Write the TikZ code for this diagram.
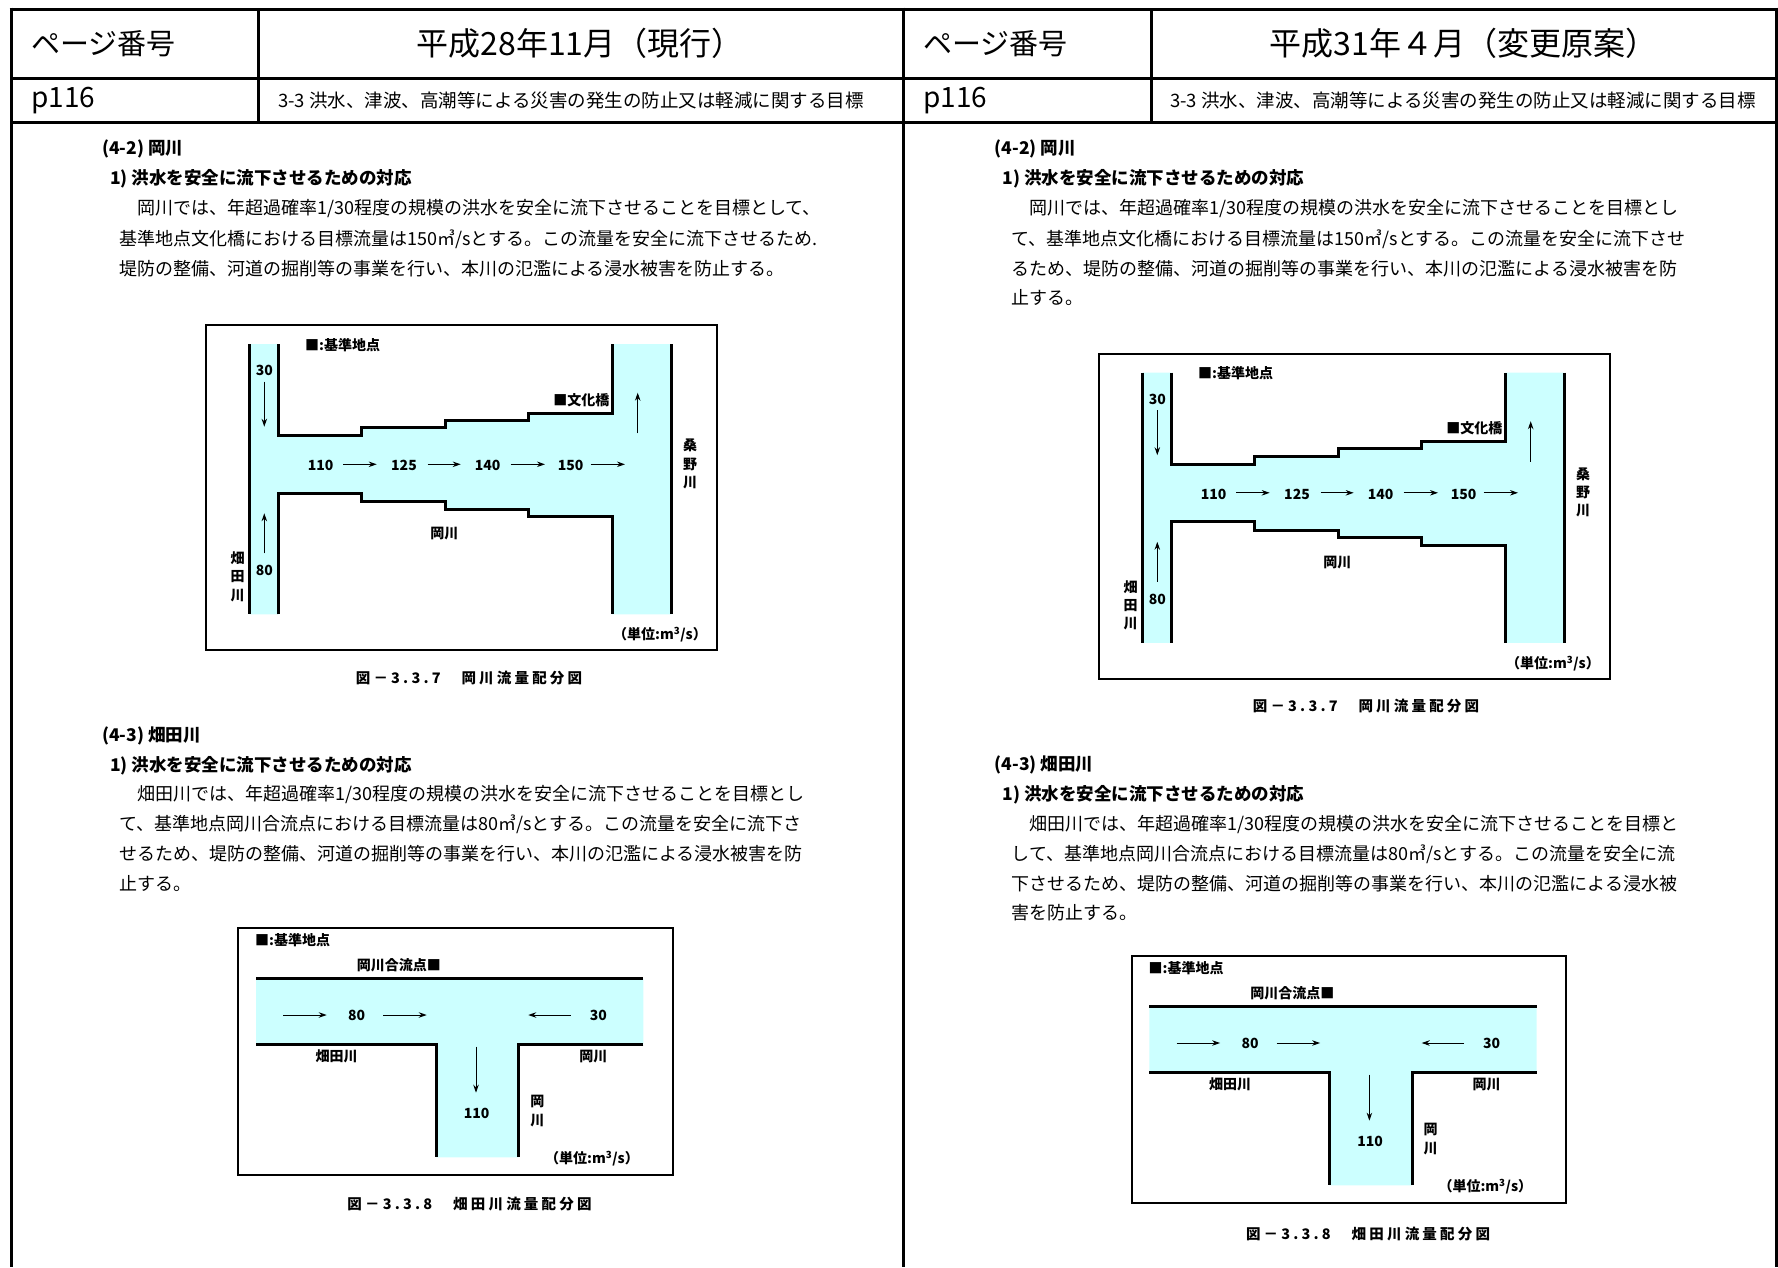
\documentclass[tikz,border=0pt]{standalone}
\usepackage{fontspec}
\setmainfont{Noto Sans CJK JP}
\usetikzlibrary{arrows.meta}
\definecolor{water}{HTML}{CCFFFF}
\newcommand{\fsz}[1]{\fontsize{#1}{#1}\selectfont}
\begin{document}
\begin{tikzpicture}[x=1pt,y=-1pt,
  frameline/.style={line width=3pt},
  txt/.style={inner sep=0pt,anchor=west},
  bigt/.style={txt,font=\fsz{29}},
  midt/.style={txt,font=\fsz{18.5}},
  head/.style={txt,font=\fsz{17.5}\bfseries},
  body/.style={txt,font=\fsz{18}},
  capt/.style={inner sep=0pt,font=\fsz{14.5}\bfseries\addfontfeature{LetterSpace=22}},
  figt/.style={inner sep=0pt,font=\fsz{14}\bfseries},
  vert/.style={figt,align=center,font=\fontsize{14}{18.3}\selectfont\bfseries},
  bank/.style={line width=3pt},
  figframe/.style={line width=2pt},
  flow/.style={line width=1pt,-{Stealth[length=8pt,width=5.5pt]}},
  figA/.pic={
    \fill[water] (249.3,344) -- (278.7,344) -- (278.7,435.7) -- (361.7,435.7) -- (361.7,427.7) -- (445,427.7) -- (445,420) -- (528.3,420) -- (528.3,413.3) -- (612,413.3) -- (612,344) -- (671.7,344) -- (671.7,614.3) -- (612,614.3) -- (612,516.7) -- (528.3,516.7) -- (528.3,509) -- (445,509) -- (445,501.7) -- (361.7,501.7) -- (361.7,493.3) -- (278.7,493.3) -- (278.7,614.3) -- (249.3,614.3) -- cycle;
    \draw[bank] (249.3,344) -- (249.3,614.3);
    \draw[bank] (278.7,344) -- (278.7,435.7) -- (361.7,435.7) -- (361.7,427.7) -- (445,427.7) -- (445,420) -- (528.3,420) -- (528.3,413.3) -- (612,413.3) -- (612,344);
    \draw[bank] (278.7,614.3) -- (278.7,493.3) -- (361.7,493.3) -- (361.7,501.7) -- (445,501.7) -- (445,509) -- (528.3,509) -- (528.3,516.7) -- (612,516.7) -- (612,614.3);
    \draw[bank] (671.7,344) -- (671.7,614.3);
    \draw[figframe] (206,325) rectangle (717,650);
    \node[figt,anchor=west] (key) at (305,345) {■:基準地点};
    \node[figt] (q30) at (264.3,370.7) {30};
    \draw[flow] (264.3,381.7) -- (264.3,426.7);
    \node[figt] (q80) at (264.3,570.7) {80};
    \draw[flow] (264.3,553.3) -- (264.3,513.3);
    \node[vert] (hata) at (237.7,576.7) {畑\\田\\川};
    \node[figt] (q110) at (320.7,465.7) {110};
    \draw[flow] (343.3,464.3) -- (376.7,464.3);
    \node[figt] (q125) at (404,465.7) {125};
    \draw[flow] (427.7,464.3) -- (460.7,464.3);
    \node[figt] (q140) at (487.7,465.7) {140};
    \draw[flow] (510.7,464.3) -- (545,464.3);
    \node[figt] (q150) at (570.7,465.7) {150};
    \draw[flow] (590.7,464.3) -- (625,464.3);
    \draw[flow] (637.7,433.3) -- (637.7,392.7);
    \node[figt,anchor=east] (bunka) at (609.5,400) {■文化橋};
    \node[vert] (kuwa) at (690,464) {桑\\野\\川};
    \node[figt] (oka) at (444.3,534) {岡川};
    \node[figt,anchor=east] (unit) at (707,635) {（単位:m\textsuperscript{3}/s）};
  },
  figB/.pic={
    \fill[water] (256,978.7) -- (643.3,978.7) -- (643.3,1044.3) -- (518.7,1044.3) -- (518.7,1157.3) -- (436,1157.3) -- (436,1044.3) -- (256,1044.3) -- cycle;
    \draw[bank] (256,978.7) -- (643.3,978.7);
    \draw[bank] (256,1044.3) -- (436,1044.3) -- (436,1157.3);
    \draw[bank] (643.3,1044.3) -- (518.7,1044.3) -- (518.7,1157.3);
    \draw[figframe] (238.3,928.3) rectangle (672.7,1175);
    \node[figt,anchor=west] (key) at (255,940) {■:基準地点};
    \node[figt,anchor=west] (junc) at (356.7,965) {岡川合流点■};
    \draw[flow] (283.3,1015) -- (326.7,1015);
    \node[figt] (q80) at (356.7,1015) {80};
    \draw[flow] (383.3,1015) -- (426.7,1015);
    \draw[flow] (570.7,1015) -- (528.3,1015);
    \node[figt] (q30) at (598.3,1015) {30};
    \draw[flow] (476,1046.7) -- (476,1092.7);
    \node[figt] (q110) at (476.7,1113.3) {110};
    \node[figt] (hata) at (336.7,1056.7) {畑田川};
    \node[figt] (oka) at (593.3,1056.7) {岡川};
    \node[vert,font=\fontsize{14}{19}\selectfont\bfseries] (okav) at (537.3,1111.2) {岡\\川};
    \node[figt,anchor=east] (unit) at (639,1158.3) {（単位:m\textsuperscript{3}/s）};
  }]
\useasboundingbox (0,0) rectangle (1778,1267);
% page frame
\draw[frameline] (9.5,9) -- (1777.5,9);
\draw[frameline] (11,78) -- (1776,78);
\draw[frameline] (11,122.5) -- (1776,122.5);
\draw[frameline] (11,7.5) -- (11,1267);
\draw[frameline] (903,7.5) -- (903,1267);
\draw[frameline] (1776,7.5) -- (1776,1267);
\draw[frameline] (258.5,9) -- (258.5,122.5);
\draw[frameline] (1151,9) -- (1151,122.5);
% headers
\node[bigt] (pgL) at (31,43.5) {ページ番号};
\node[inner sep=0pt,font=\fsz{32}] (dateL) at (580,43.5) {平成28年11月（現行）};
\node[bigt,font=\fsz{28}] (pnL) at (31,100.5) {p116};
\node[midt] (secL) at (278,100.5) {3-3 洪水、津波、高潮等による災害の発生の防止又は軽減に関する目標};
\node[bigt] (pgR) at (923,43.5) {ページ番号};
\node[inner sep=0pt,font=\fsz{32}] (dateR) at (1463.5,43.5) {平成31年４月（変更原案）};
\node[bigt,font=\fsz{28}] (pnR) at (923,100.5) {p116};
\node[midt] (secR) at (1170,100.5) {3-3 洪水、津波、高潮等による災害の発生の防止又は軽減に関する目標};
% left text
\node[head] (lA1) at (102,148.6) {(4-2) 岡川};
\node[head] (lA2) at (110,179) {1) 洪水を安全に流下させるための対応};
\node[body] (lA3) at (137,208.7) {岡川では、年超過確率1/30程度の規模の洪水を安全に流下させることを目標として、};
\node[body] (lA4) at (119,239) {基準地点文化橋における目標流量は150㎥/sとする。この流量を安全に流下させるため.};
\node[body] (lA5) at (119,268.8) {堤防の整備、河道の掘削等の事業を行い、本川の氾濫による浸水被害を防止する。};
\pic (LfA) at (0,0) {figA};
\node[capt] (capLA) at (469,678) {図－3.3.7　岡川流量配分図};
\node[head] (lB1) at (102,736) {(4-3) 畑田川};
\node[head] (lB2) at (110,765.5) {1) 洪水を安全に流下させるための対応};
\node[body] (lB3) at (137,795) {畑田川では、年超過確率1/30程度の規模の洪水を安全に流下させることを目標とし};
\node[body] (lB4) at (119,824.5) {て、基準地点岡川合流点における目標流量は80㎥/sとする。この流量を安全に流下さ};
\node[body] (lB5) at (119,854) {せるため、堤防の整備、河道の掘削等の事業を行い、本川の氾濫による浸水被害を防};
\node[body] (lB6) at (119,883.5) {止する。};
\pic (LfB) at (0,0) {figB};
\node[capt] (capLB) at (469.5,1204) {図－3.3.8　畑田川流量配分図};
% right text
\node[head] (rA1) at (994.5,148.6) {(4-2) 岡川};
\node[head] (rA2) at (1002.5,179) {1) 洪水を安全に流下させるための対応};
\node[body] (rA3) at (1029.6,208.7) {岡川では、年超過確率1/30程度の規模の洪水を安全に流下させることを目標とし};
\node[body] (rA4) at (1011.5,239) {て、基準地点文化橋における目標流量は150㎥/sとする。この流量を安全に流下させ};
\node[body] (rA5) at (1011.5,268.8) {るため、堤防の整備、河道の掘削等の事業を行い、本川の氾濫による浸水被害を防};
\node[body] (rA6) at (1011.5,298) {止する。};
\pic (RfA) at (893,28.5) {figA};
\node[capt] (capRA) at (1366,706.5) {図－3.3.7　岡川流量配分図};
\node[head] (rB1) at (994.5,764.5) {(4-3) 畑田川};
\node[head] (rB2) at (1002.5,795) {1) 洪水を安全に流下させるための対応};
\node[body] (rB3) at (1029.6,824.5) {畑田川では、年超過確率1/30程度の規模の洪水を安全に流下させることを目標と};
\node[body] (rB4) at (1011.5,854) {して、基準地点岡川合流点における目標流量は80㎥/sとする。この流量を安全に流};
\node[body] (rB5) at (1011.5,883.5) {下させるため、堤防の整備、河道の掘削等の事業を行い、本川の氾濫による浸水被};
\node[body] (rB6) at (1011.5,913) {害を防止する。};
\pic (RfB) at (893.4,28) {figB};
\node[capt] (capRB) at (1368,1233.8) {図－3.3.8　畑田川流量配分図};
\end{tikzpicture}
\end{document}
